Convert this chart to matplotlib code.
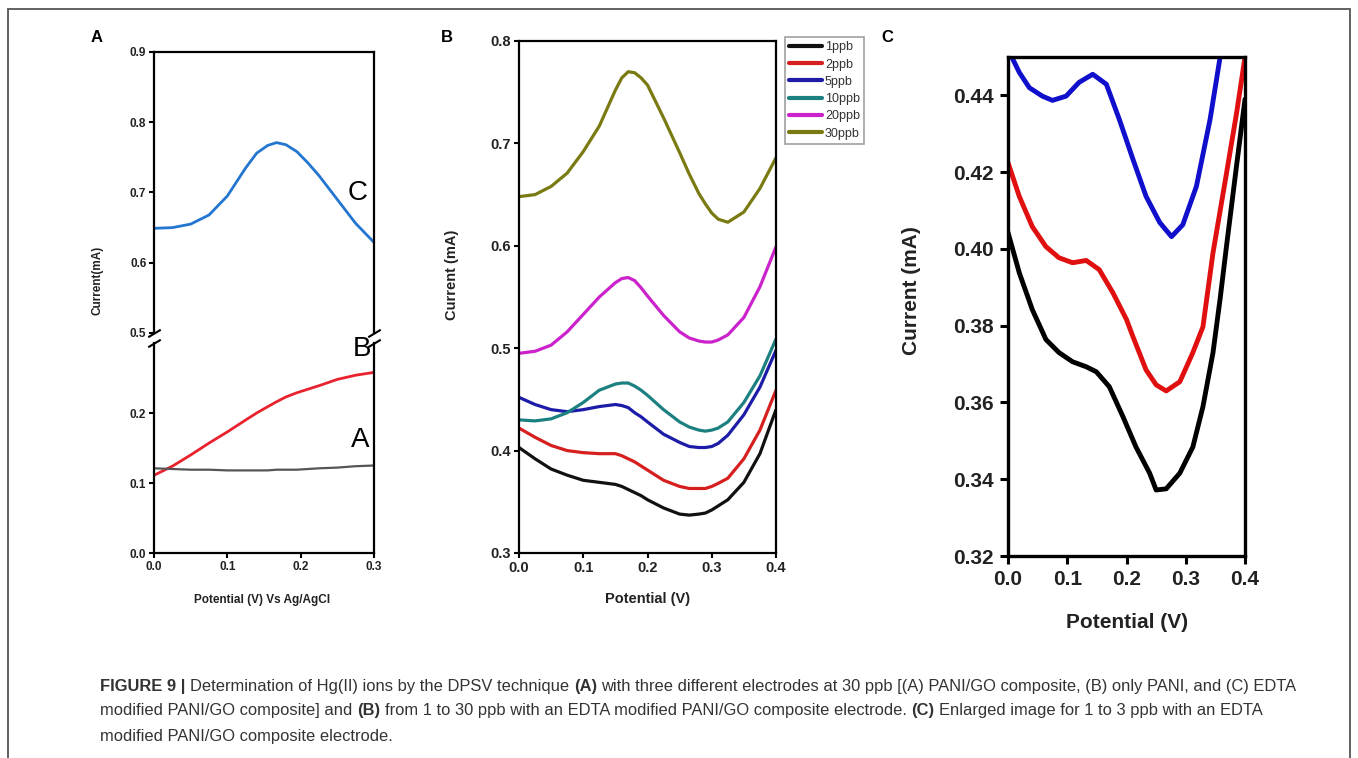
import matplotlib
matplotlib.use('Agg')
import matplotlib.pyplot as plt
from matplotlib.patches import Rectangle

plt.rcParams['font.family'] = ['Liberation Sans', 'DejaVu Sans']
plt.rcParams['lines.solid_joinstyle'] = 'round'
plt.rcParams['lines.solid_capstyle'] = 'round'

# ---- data: panel A (three electrodes, 30 ppb) ----
xa = [0, 0.025, 0.05, 0.075, 0.1, 0.125, 0.14, 0.155, 0.167, 0.18, 0.195, 0.21, 0.225, 0.25, 0.275, 0.3]
a_edta = [0.649, 0.650, 0.655, 0.668, 0.695, 0.735, 0.756, 0.767, 0.771, 0.768, 0.758, 0.742,
          0.724, 0.690, 0.656, 0.629]
a_pani = [0.111, 0.124, 0.140, 0.157, 0.173, 0.190, 0.200, 0.209, 0.216, 0.223, 0.229, 0.234,
          0.239, 0.248, 0.254, 0.258]
a_pani_go = [0.121, 0.120, 0.119, 0.119, 0.118, 0.118, 0.118, 0.118, 0.119, 0.119, 0.119, 0.120,
             0.121, 0.122, 0.124, 0.125]

# ---- data: panel B (1 to 30 ppb) ----
xb = [0, 0.025, 0.05, 0.075, 0.1, 0.125, 0.15, 0.16, 0.17, 0.18, 0.19, 0.2, 0.225, 0.25, 0.265,
      0.28, 0.29, 0.3, 0.31, 0.325, 0.35, 0.375, 0.4]
b_labels = ['1ppb', '2ppb', '5ppb', '10ppb', '20ppb', '30ppb']
b_1 = [0.403, 0.392, 0.382, 0.376, 0.371, 0.369, 0.367, 0.365, 0.362, 0.359, 0.356, 0.352, 0.344,
       0.338, 0.337, 0.338, 0.339, 0.342, 0.346, 0.352, 0.369, 0.397, 0.440]
b_2 = [0.422, 0.413, 0.405, 0.400, 0.398, 0.397, 0.397, 0.395, 0.392, 0.389, 0.385, 0.381, 0.371,
       0.365, 0.363, 0.363, 0.363, 0.365, 0.368, 0.373, 0.392, 0.420, 0.459]
b_5 = [0.452, 0.445, 0.440, 0.438, 0.440, 0.443, 0.445, 0.444, 0.442, 0.437, 0.433, 0.428, 0.416,
       0.408, 0.404, 0.403, 0.403, 0.404, 0.407, 0.415, 0.435, 0.462, 0.498]
b_10 = [0.430, 0.429, 0.431, 0.437, 0.447, 0.459, 0.465, 0.466, 0.466, 0.463, 0.459, 0.454, 0.440,
        0.428, 0.423, 0.420, 0.419, 0.420, 0.422, 0.428, 0.447, 0.473, 0.509]
b_20 = [0.495, 0.497, 0.503, 0.516, 0.533, 0.550, 0.564, 0.568, 0.569, 0.566, 0.559, 0.551, 0.532,
        0.516, 0.510, 0.507, 0.506, 0.506, 0.508, 0.513, 0.530, 0.560, 0.599]
b_30 = [0.648, 0.650, 0.658, 0.671, 0.692, 0.717, 0.752, 0.764, 0.770, 0.769, 0.764, 0.757, 0.725,
        0.691, 0.670, 0.651, 0.641, 0.632, 0.626, 0.623, 0.633, 0.656, 0.686]
b_colors = ['#111111', '#d61f1f', '#1c1ca8', '#1d8080', '#cc22cc', '#7a7a12']

# ---- data: panel C (1 to 5 ppb, enlarged) ----
xc_1 = [0, 0.019, 0.041, 0.064, 0.086, 0.109, 0.132, 0.149, 0.171, 0.194, 0.216, 0.239, 0.25,
        0.267, 0.29, 0.312, 0.329, 0.346, 0.358, 0.369, 0.386, 0.4]
c_1 = [0.4043, 0.3938, 0.3842, 0.3764, 0.373, 0.3706, 0.3693, 0.368, 0.3641, 0.3563, 0.3484,
       0.3416, 0.3372, 0.3375, 0.3416, 0.3484, 0.3589, 0.373, 0.387, 0.401, 0.422, 0.439]
xc_2 = [0, 0.019, 0.041, 0.064, 0.086, 0.109, 0.132, 0.154, 0.177, 0.2, 0.211, 0.233, 0.25,
        0.267, 0.29, 0.312, 0.329, 0.346, 0.369, 0.386, 0.4]
c_2 = [0.4225, 0.4137, 0.4058, 0.4006, 0.3977, 0.3964, 0.397, 0.3946, 0.3886, 0.3816, 0.3771,
       0.3685, 0.3646, 0.363, 0.3654, 0.373, 0.3797, 0.399, 0.4199, 0.4356, 0.45]
xc_5 = [0, 0.019, 0.036, 0.058, 0.075, 0.098, 0.12, 0.143, 0.166, 0.188, 0.211, 0.233, 0.256,
        0.276, 0.295, 0.318, 0.341, 0.352, 0.36]
c_5 = [0.452, 0.446, 0.442, 0.4398, 0.4387, 0.4398, 0.4434, 0.4455, 0.4429, 0.4337, 0.4233,
       0.4137, 0.4069, 0.4032, 0.4063, 0.4163, 0.4337, 0.4442, 0.452]

W, H = 1358, 758
fig = plt.figure(figsize=(W / 100, H / 100), dpi=100)


def box(l, t, r, b):
    return fig.add_axes([l / W, 1 - b / H, (r - l) / W, (b - t) / H])


def style(ax, size):
    for s in ax.spines.values():
        s.set_linewidth(1.6)
    ax.tick_params(direction='out', length=3.5, width=1.5, labelsize=size,
                   top=False, right=False, pad=2)
    for lab in ax.get_xticklabels() + ax.get_yticklabels():
        lab.set_fontweight('bold')
        lab.set_color('#222222')


# ---------------- panel A ----------------
axu = box(154, 52, 374, 333)
axl = box(154, 343, 374, 553)
for ax in (axu, axl):
    ax.plot(xa, a_edta, color='#2376d0', lw=2)
    ax.plot(xa, a_pani, color='#e8232e', lw=2)
    ax.plot(xa, a_pani_go, color='#555555', lw=1.6)
    ax.set_xlim(0, 0.3)
axu.set_ylim(0.5, 0.9)
axu.set_yticks([0.5, 0.6, 0.7, 0.8, 0.9])
axu.set_xticks([])
axu.spines['bottom'].set_visible(False)
axl.set_ylim(0, 0.3)
axl.set_yticks([0.0, 0.1, 0.2])
axl.set_xticks([0.0, 0.1, 0.2, 0.3])
axl.spines['top'].set_visible(False)
style(axu, 8.5)
style(axl, 8.5)

# break marks
d = 0.6
kw = dict(marker=[(-1, -d), (1, d)], markersize=9, linestyle='none', color='k',
          mec='k', mew=1.5, clip_on=False)
axu.plot([0, 1], [0, 0], transform=axu.transAxes, **kw)
axl.plot([0, 1], [1, 1], transform=axl.transAxes, **kw)

axu.text(0.277, 0.70, 'C', fontsize=20, ha='center', va='center')
axl.text(0.283, 0.292, 'B', fontsize=20, ha='center', va='center')
axl.text(0.281, 0.161, 'A', fontsize=20, ha='center', va='center')
fig.text(97 / W, 1 - 280 / H, 'Current(mA)', rotation=90, ha='center', va='center',
         fontsize=8.5, fontweight='bold', color='#222222')
fig.text(262 / W, 1 - 600 / H, 'Potential (V) Vs Ag/AgCl', ha='center', va='center',
         fontsize=8.5, fontweight='bold', color='#222222')

# ---------------- panel B ----------------
axb = box(519, 41, 776, 553)
for ys, lab, col in zip([b_1, b_2, b_5, b_10, b_20, b_30], b_labels, b_colors):
    axb.plot(xb, ys, color=col, lw=2.3, label=lab)
axb.set_xlim(0, 0.4)
axb.set_ylim(0.3, 0.8)
axb.set_xticks([0.0, 0.1, 0.2, 0.3, 0.4])
axb.set_yticks([0.3, 0.4, 0.5, 0.6, 0.7, 0.8])
style(axb, 10.5)
leg = axb.legend(loc='upper left', bbox_to_anchor=(1.035, 1.008), fontsize=9, handlelength=2.6,
                 handletextpad=0.25, labelspacing=0.42, borderpad=0.35, borderaxespad=0,
                 fancybox=False, frameon=True)
leg.get_frame().set_edgecolor('#888888')
leg.get_frame().set_linewidth(1.2)
for h in leg.get_lines():
    h.set_linewidth(3)
for t in leg.get_texts():
    t.set_color('#333333')
fig.text(452 / W, 1 - 275 / H, 'Current (mA)', rotation=90, ha='center', va='center',
         fontsize=10.5, fontweight='bold', color='#222222')
fig.text(648 / W, 1 - 599 / H, 'Potential (V)', ha='center', va='center',
         fontsize=10.5, fontweight='bold', color='#222222')

# ---------------- panel C ----------------
axc = box(1008, 57, 1245, 556)
axc.plot(xc_1, c_1, color='#000000', lw=3.5)
axc.plot(xc_2, c_2, color='#e01010', lw=3.5)
axc.plot(xc_5, c_5, color='#1010cc', lw=3.5)
axc.set_xlim(0, 0.4)
axc.set_ylim(0.32, 0.45)
axc.set_xticks([0.0, 0.1, 0.2, 0.3, 0.4])
axc.set_yticks([0.32, 0.34, 0.36, 0.38, 0.40, 0.42, 0.44])
axc.yaxis.set_major_formatter(matplotlib.ticker.FormatStrFormatter('%.2f'))
style(axc, 15)
axc.tick_params(length=6, width=2.2, pad=4)
for s in axc.spines.values():
    s.set_linewidth(2.4)
fig.text(912 / W, 1 - 291 / H, 'Current (mA)', rotation=90, ha='center', va='center',
         fontsize=15, fontweight='bold', color='#222222')
fig.text(1127 / W, 1 - 623 / H, 'Potential (V)', ha='center', va='center',
         fontsize=15, fontweight='bold', color='#222222')

# panel letters
for px, lab in [(97, 'A'), (447, 'B'), (887, 'C')]:
    fig.text(px / W, 1 - 37 / H, lab, ha='center', va='center', fontsize=12, fontweight='bold')

# outer frame
fig.patches.append(Rectangle((8 / W, -0.05), 1342 / W, 1 - 9 / H + 0.05,
                             transform=fig.transFigure, fill=False, ec='#555555', lw=1.3))

# caption with bold runs
caption = [
    [('FIGURE 9 |', 'bold'), ('Determination of Hg(II) ions by the DPSV technique', 'normal'),
     ('(A)', 'bold'),
     ('with three different electrodes at 30 ppb [(A) PANI/GO composite, (B) only PANI, and (C) EDTA', 'normal')],
    [('modified PANI/GO composite] and', 'normal'), ('(B)', 'bold'),
     ('from 1 to 30 ppb with an EDTA modified PANI/GO composite electrode.', 'normal'),
     ('(C)', 'bold'), ('Enlarged image for 1 to 3 ppb with an EDTA', 'normal')],
    [('modified PANI/GO composite electrode.', 'normal')],
]
cap_size = 11.85
renderer = fig.canvas.get_renderer()
probe = fig.text(0, 0, 'a a', fontsize=cap_size)
w2 = probe.get_window_extent(renderer=renderer).width
probe.set_text('aa')
space = w2 - probe.get_window_extent(renderer=renderer).width
probe.remove()
for i, line in enumerate(caption):
    x = 100
    y = 1 - (686 + 25 * i) / H
    for txt, wt in line:
        t = fig.text(x / W, y, txt, fontsize=cap_size, fontweight=wt, color='#333333', va='center')
        x += t.get_window_extent(renderer=renderer).width + space

fig.savefig('out.png', dpi=100, facecolor='white')
